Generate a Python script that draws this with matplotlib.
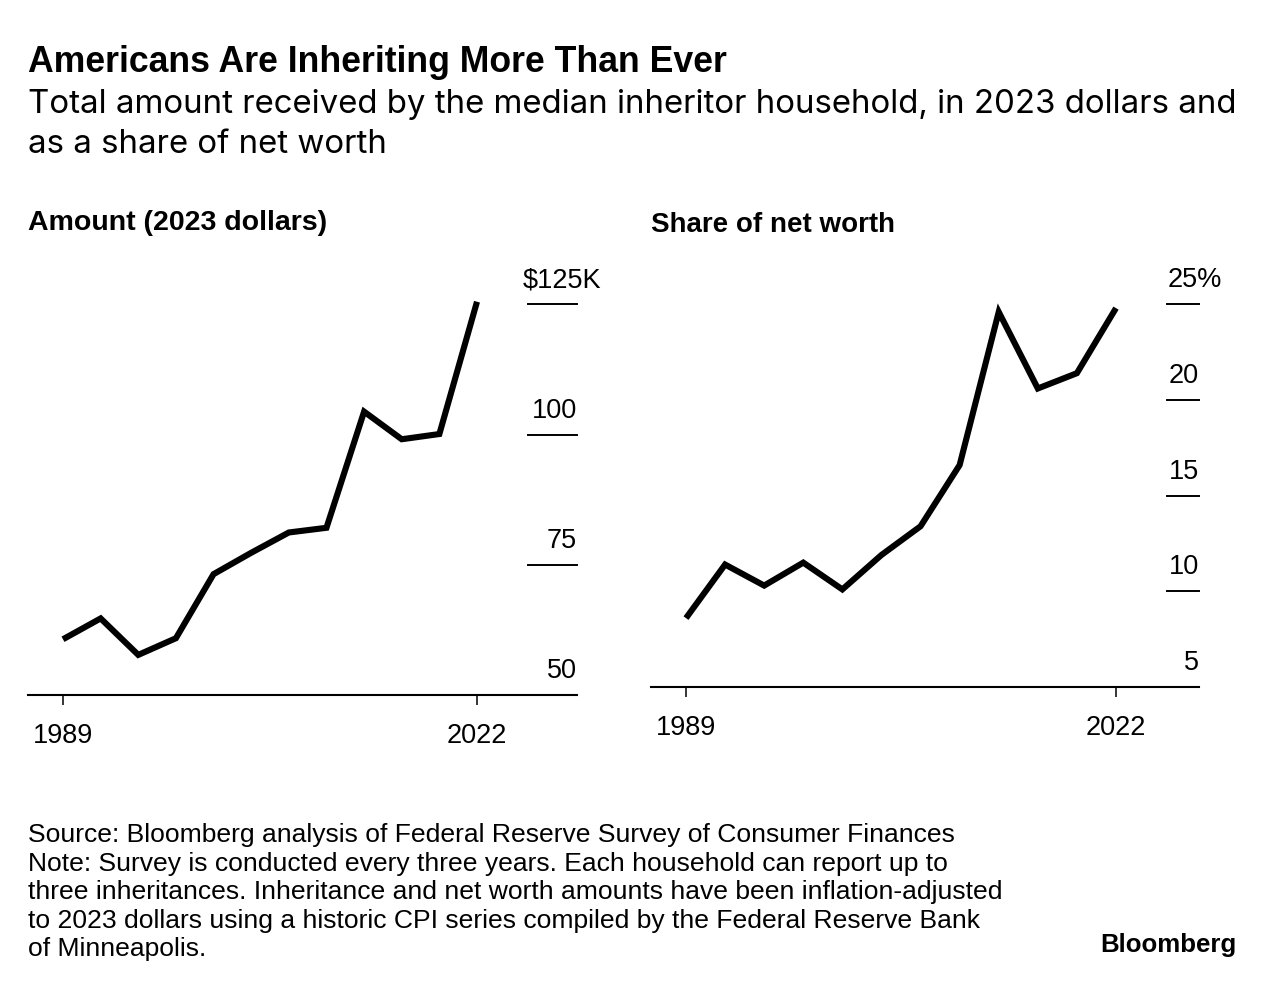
'''
two-panel line chart: median inheritance amount and share of net worth
'''
import matplotlib
matplotlib.use('Agg')
import matplotlib.pyplot as plt
from matplotlib.transforms import offset_copy

plt.rcParams['font.family'] = ['Liberation Sans', 'DejaVu Sans']

W, H = 1275, 988

# survey years (every three years)
years = [1989, 1992, 1995, 1998, 2001, 2004, 2007, 2010, 2013, 2016, 2019, 2022]
# median inheritance, thousands of 2023 dollars
amount = [60.7, 64.7, 57.7, 60.9, 73.2, 77.3, 81.2, 82.1, 104.4, 99.1, 100.1, 125.5]
# inheritance as share of net worth, percent
share = [8.6, 11.4, 10.3, 11.5, 10.1, 11.9, 13.4, 16.6, 24.6, 20.6, 21.4, 24.8]

amount_ticks = [50, 75, 100, 125]
amount_labels = ['50', '75', '100', '$125K']
share_ticks = [5, 10, 15, 20, 25]
share_labels = ['5', '10', '15', '20', '25%']
year_ticks = [1989, 2022]

title = 'Americans Are Inheriting More Than Ever'
subtitle = ['Total amount received by the median inheritor household, in 2023 dollars and',
            'as a share of net worth']
notes = ['Source: Bloomberg analysis of Federal Reserve Survey of Consumer Finances',
         'Note: Survey is conducted every three years. Each household can report up to',
         'three inheritances. Inheritance and net worth amounts have been inflation-adjusted',
         'to 2023 dollars using a historic CPI series compiled by the Federal Reserve Bank',
         'of Minneapolis.']

TICK_FS = 19.5


def fx(x): return x / W
def fy(y): return 1 - y / H


def fit(t, width_px):
    '''rescale a text so it spans width_px pixels, returns the new size'''
    r = fig.canvas.get_renderer()
    w = t.get_window_extent(r).width
    t.set_fontsize(t.get_fontsize() * width_px / w)
    return t.get_fontsize()


def panel(fig, left, right, bottom, top, xlim, ylim, ys, ticks, labels,
          tick_from, overhang):
    ax = fig.add_axes([fx(left), fy(bottom), fx(right - left), (bottom - top) / H])
    ax.set_xlim(*xlim)
    ax.set_ylim(*ylim)
    ax.plot(years, ys, color='black', lw=4.4, solid_joinstyle='miter',
            solid_capstyle='butt', clip_on=False, zorder=3)
    for s in ['top', 'left', 'right']:
        ax.spines[s].set_visible(False)
    ax.spines['bottom'].set_linewidth(1.5)
    ax.set_yticks([])
    ax.set_xticks(year_ticks)
    ax.set_xticklabels([str(y) for y in year_ticks])
    ax.tick_params(axis='x', length=7.5, width=1.1, pad=12.5, labelsize=TICK_FS,
                   color='black')
    # horizontal tick marks with labels sitting on top
    tr = ax.get_yaxis_transform()
    for v, lab in zip(ticks, labels):
        if v != ylim[0]:
            ax.plot([tick_from, 1.0], [v, v], transform=tr, color='black',
                    lw=1.4, clip_on=False)
        dx = overhang if lab is labels[-1] else 0
        t = offset_copy(tr, fig=fig, x=dx * 72 / 100, y=17 * 72 / 100, units='points')
        ax.text(1.0, v, lab, transform=t, ha='right', va='baseline', fontsize=TICK_FS)
    return ax


fig = plt.figure(figsize=(W / 100, H / 100), dpi=100)
fig.patch.set_facecolor('white')

# left panel: 1989 at x=63, 2022 at x=477, bottom 50 at y=695
ppy = (477 - 63) / 33
panel(fig, 28, 577, 695, 278, (1989 - 35 / ppy, 2022 + 100 / ppy),
      (50, 50 + (695 - 278) / 5.209), amount, amount_ticks, amount_labels,
      (528 - 28) / 549, 24)

# right panel: 1989 at x=686, 2022 at x=1116, bottom 5 at y=687
ppy = (1116 - 686) / 33
panel(fig, 651, 1199, 687, 285, (1989 - 35 / ppy, 2022 + 83 / ppy),
      (5, 5 + (687 - 285) / 19.135), share, share_ticks, share_labels,
      (1167 - 651) / 548, 23)

t = fig.text(fx(28), fy(72), title, fontsize=24.3, fontweight='bold', va='baseline')
fit(t, 699)

sub = [fig.text(fx(28), fy(113 + 40 * i), line, fontsize=23, va='baseline',
                family=['Inter', 'Liberation Sans', 'DejaVu Sans'])
       for i, line in enumerate(subtitle)]
fs = fit(sub[0], 1210)
sub[1].set_fontsize(fs)

fig.text(fx(28), fy(230), 'Amount (2023 dollars)', fontsize=20.5, fontweight='bold',
         va='baseline')
fig.text(fx(651), fy(232), 'Share of net worth', fontsize=20, fontweight='bold',
         va='baseline')

nts = [fig.text(fx(28), fy(842 + 28.6 * i), line, fontsize=18, va='baseline')
       for i, line in enumerate(notes)]
fs = fit(nts[0], 925)
for t in nts[1:]:
    t.set_fontsize(fs)

t = fig.text(fx(1236), fy(952), 'Bloomberg', fontsize=19.5, fontweight='bold',
             ha='right', va='baseline')
fit(t, 137)

fig.savefig('out.png', dpi=100, facecolor='white')
